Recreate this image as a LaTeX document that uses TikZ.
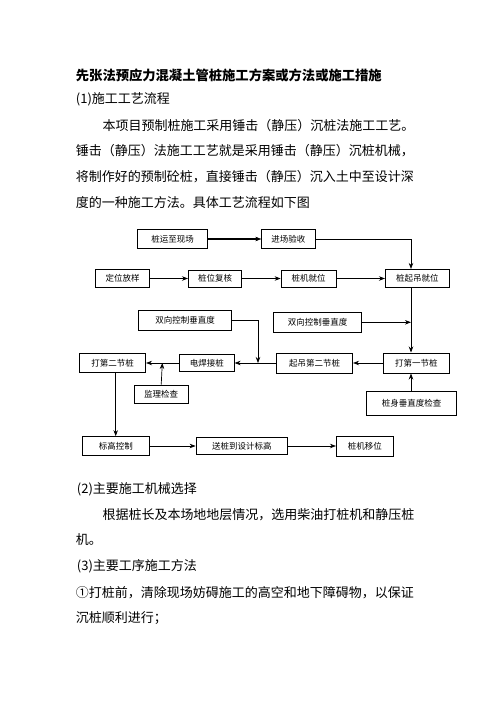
\documentclass[tikz,border=0pt]{standalone}
\usepackage{fontspec}
\setmainfont{Noto Sans CJK SC}
\usetikzlibrary{arrows.meta,calc}
\tikzset{
  bx/.style={draw, line width=0.7pt, inner sep=0pt, font=\fontsize{8.5}{10}\selectfont},
  arr/.style={line width=0.7pt, -{Stealth[length=6pt 0 0,width=4.5pt 0 0]}},
  arrthick/.style={line width=1.2pt, -{Stealth[length=6pt 0 0,width=4.5pt 0 0,line width=0.3pt 0 0]}},
  txt/.style={anchor=west, inner sep=0pt, font=\fontsize{13}{15}\selectfont},
  ttl/.style={anchor=west, inner sep=0pt, font=\fontsize{13.3}{16}\selectfont\bfseries}
}
\begin{document}
\begin{tikzpicture}[x=1pt,y=-1pt]
\useasboundingbox[fill=white] (0,0) rectangle (496,702);
% text
\node[ttl] (t0) at (75.7,75) {先张法预应力混凝土管桩施工方案或方法或施工措施};
\node[txt] (t1) at (75.7,99) {(1)施工工艺流程};
\node[txt] (t2) at (102.3,125.7) {本项目预制桩施工采用锤击（静压）沉桩法施工工艺。};
\node[txt] (t3) at (75.7,150.5) {锤击（静压）法施工工艺就是采用锤击（静压）沉桩机械，};
\node[txt] (t4) at (75.7,176.7) {将制作好的预制砼桩，直接锤击（静压）沉入土中至设计深};
\node[txt] (t5) at (75.7,202.7) {度的一种施工方法。具体工艺流程如下图};
\node[txt] (t6) at (76.7,489) {(2)主要施工机械选择};
\node[txt] (t7) at (102.3,514.3) {根据桩长及本场地地层情况，选用柴油打桩机和静压桩};
\node[txt] (t8) at (75.7,540) {机。};
\node[txt] (t9) at (76.7,566) {(3)主要工序施工方法};
\node[txt] (t10) at (75.7,592.7) {①打桩前，清除现场妨碍施工的高空和地下障碍物，以保证};
\node[txt] (t11) at (75.7,617.7) {沉桩顺利进行；};
% boxes
\node[bx, minimum width=69.6pt, minimum height=19.4pt] (A) at (172.5,239) {桩运至现场};
\node[bx, minimum width=53.3pt, minimum height=18.7pt] (B) at (288.3,239) {进场验收};
\node[bx, minimum width=53.6pt, minimum height=18pt] (C) at (122.5,278.5) {定位放样};
\node[bx, minimum width=53.4pt, minimum height=17.3pt] (D) at (215,278.5) {桩位复核};
\node[bx, minimum width=55pt, minimum height=17.3pt] (E) at (308.5,278.5) {桩机就位};
\node[bx, minimum width=64pt, minimum height=18.4pt] (F) at (417.3,278.5) {桩起吊就位};
\node[bx, minimum width=93.4pt, minimum height=19.3pt] (G) at (185,320.3) {双向控制垂直度};
\node[bx, minimum width=88.4pt, minimum height=19.3pt] (H) at (317.5,322.3) {双向控制垂直度};
\node[bx, minimum width=66.4pt, minimum height=19.6pt] (I) at (112.5,363) {打第二节桩};
\node[bx, minimum width=55pt, minimum height=17.4pt] (J) at (206.8,363) {电焊接桩};
\node[bx, minimum width=76pt, minimum height=20pt] (K) at (314.7,363) {起吊第二节桩};
\node[bx, minimum width=66pt, minimum height=20.3pt] (L) at (416.3,363) {打第一节桩};
\node[bx, minimum width=90.4pt, minimum height=24.3pt] (M) at (411.5,403.2) {桩身垂直度检查};
\node[bx, minimum width=54.3pt, minimum height=18.3pt] (N) at (161.2,394.2) {监理检查};
\node[bx, minimum width=67pt, minimum height=19pt] (O) at (115.8,446) {标高控制};
\node[bx, minimum width=91.7pt, minimum height=16.7pt] (P) at (241.8,446) {送桩到设计标高};
\node[bx, minimum width=57pt, minimum height=19.7pt] (Q) at (364.8,446) {桩机移位};
% helper coordinates
\coordinate (fx) at (411,0);
\coordinate (gx) at (258,363);
\coordinate (nx) at (162.3,363);
\coordinate (ix) at (115.7,0);
% connectors
\draw[arrthick] (A) -- (B);
\draw[arr] (B.east) -| (fx |- F.north);
\draw[arr] (C) -- (D);
\draw[arr] (D) -- (E);
\draw[arr] (E) -- (F);
\draw[arr] (fx |- F.south) -- (fx |- L.north);
\draw[arr] (H.east) -- (fx |- H.east);
\draw[arr] (G.east) -| (gx);
\draw[arr] (L) -- (K);
\draw[arr] (K) -- (J);
\draw[arr] (J) -- (I);
\draw[arr] (N.north) -- (nx);
\draw[arr] (fx |- M.north) -- (fx |- L.south);
\draw[arr] (ix |- I.south) -- (ix |- O.north);
\draw[arr] (O) -- (P);
\draw[arr] (P) -- (Q);
\end{tikzpicture}
\end{document}
